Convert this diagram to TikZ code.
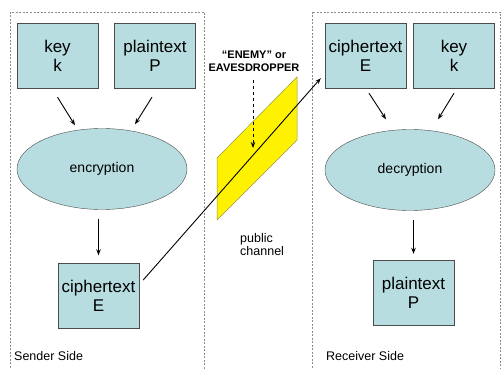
\documentclass[tikz,border=0pt]{standalone}
\usepackage{fontspec}
\setmainfont{Liberation Sans}
\usetikzlibrary{arrows.meta,shapes.geometric}
\definecolor{boxfill}{RGB}{184,221,224}
\definecolor{chanedge}{RGB}{150,150,60}

\begin{document}
\begin{tikzpicture}
    [x=1pt, y=-1pt, >={Stealth[length=6pt,width=4.5pt]},
    block/.style={draw=black!70, fill=boxfill, minimum width=81pt,
        minimum height=65pt, inner sep=0pt, align=center,
        font=\fontsize{17}{19}\selectfont},
    oval/.style={ellipse, draw=black!70, fill=boxfill, minimum width=170pt,
        minimum height=81pt, inner sep=0pt,
        font=\fontsize{14}{16}\selectfont},
    side/.style={draw=black!45, dash pattern=on 2pt off 1.5pt, line width=0.6pt},
    flow/.style={->, line width=0.9pt},
    note/.style={inner sep=0pt, align=left, font=\fontsize{12.5}{13}\selectfont},
    ]
    \useasboundingbox (0,0) rectangle (501,369);

    % the two sides
    \draw[side] (10,12) rectangle (204,375);
    \draw[side] (312,12) rectangle (500,375);

    % sender
    \node[block] (keyS) at (57.5,55.5) {key\\k};
    \node[block] (plainS) at (155,55.5) {plaintext\\P};
    \node[oval] (encS) at (102,169) {encryption};
    \node[block] (cipherS) at (98.5,296) {ciphertext\\E};
    \node[note, anchor=west] (sender) at (14,356) {Sender Side};

    \draw[flow] ([yshift=-9pt]keyS.south) -- ([xshift=-27pt,yshift=3pt]encS.north);
    \draw[flow] ([xshift=-3pt,yshift=-9pt]plainS.south) -- ([xshift=33pt,yshift=4pt]encS.north);
    \draw[flow, shorten <=9pt, shorten >=8pt] (encS.south -| cipherS.north) -- (cipherS.north);

    % receiver
    \node[block] (cipherR) at (365.5,55.5) {ciphertext\\E};
    \node[block] (keyR) at (454,55.5) {key\\k};
    \node[oval] (decR) at (410,170) {decryption};
    \node[block] (plainR) at (413.5,292.5) {plaintext\\P};
    \node[note, anchor=west] (receiver) at (326,356) {Receiver Side};

    \draw[flow] ([xshift=3.5pt,yshift=-5pt]cipherR.south) -- ([xshift=-24pt,yshift=10pt]decR.north);
    \draw[flow] ([yshift=-5pt]keyR.south) -- ([xshift=28pt,yshift=10pt]decR.north);
    \draw[flow, shorten <=9pt, shorten >=6pt] (decR.south -| plainR.north) -- (plainR.north);

    % public channel
    \draw[draw=chanedge, fill=yellow, line width=0.5pt]
        (217,158) -- (297,77) -- (297,140) -- (217,220) -- cycle;
    \node[align=center, inner sep=0pt, font=\fontsize{11}{13}\selectfont\bfseries]
        (enemy) at (254,61) {``ENEMY'' or\\EAVESDROPPER};
    \coordinate (tap) at (253,148);
    \draw[flow, dashed] ([yshift=-8pt]enemy.south -| tap) -- (tap);
    \node[note, anchor=west] (channel) at (240,245) {public\\channel};

    \draw[flow] ([xshift=4pt,yshift=16pt]cipherS.east) -- ([xshift=-4pt,yshift=10pt]cipherR.south west);
\end{tikzpicture}
\end{document}
